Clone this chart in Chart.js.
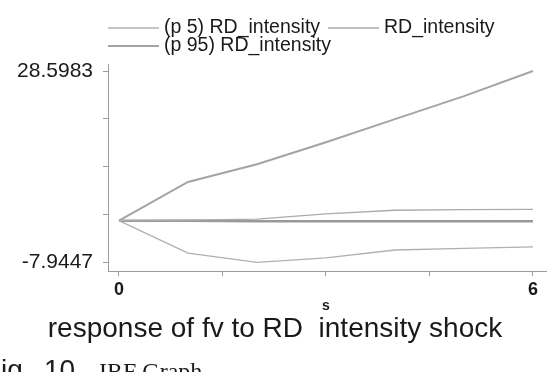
<!DOCTYPE html>
<html lang="en">
<head>
  <meta charset="utf-8" />
  <script src="https://cdn.jsdelivr.net/npm/chart.js/dist/chart.umd.min.js"></script>
  <style>
    html, body { margin: 0; padding: 0; background: #fff; }
    #irf { display: block; }
  </style>
</head>
<body>
  <canvas id="irf" width="547" height="372"></canvas>
  <script>
// step (s) and the response series
const steps = [0, 1, 2, 3, 4, 5, 6];
const p5 = [0, -6.2, -7.9447, -7.1, -5.6, -5.3, -5.0];
const irf = [0, 0.1, 0.3, 1.3, 2.0, 2.1, 2.15];
const p95 = [0, 7.4, 10.8, 15.0, 19.4, 23.8, 28.5983];
const flat = [0, 0, -0.1, -0.1, -0.1, -0.1, -0.1];

const xTicks = [0, 1.5, 3, 4.5, 6];
const xTickLabels = ['0', '', '', '', '6'];
const yTicks = [28.5983, 19.4626, 10.3268, 1.1911, -7.9447];
const yTickLabels = ['28.5983', '', '', '', '-7.9447'];

const pts = arr => steps.map((s, i) => ({ x: s, y: arr[i] }));

// legend + captions drawn straight on the canvas (stata-like layout)
const extras = {
  id: 'extras',
  afterDraw(chart) {
    const ctx = chart.ctx;
    const ds = chart.data.datasets;
    const items = [
      { d: ds[0], x: 108, tx: 164, y: 28 },
      { d: ds[1], x: 328, tx: 384, y: 28 },
      { d: ds[2], x: 108, tx: 164, y: 46 }
    ];
    ctx.save();
    ctx.font = '19.5px "Liberation Sans", Arial, sans-serif';
    ctx.textBaseline = 'middle';
    ctx.textAlign = 'left';
    items.forEach(it => {
      ctx.strokeStyle = it.d.borderColor;
      ctx.lineWidth = it.d.borderWidth;
      ctx.beginPath();
      ctx.moveTo(it.x, it.y);
      ctx.lineTo(it.x + 51, it.y);
      ctx.stroke();
      ctx.fillStyle = '#1a1a1a';
      ctx.fillText(it.d.label, it.tx, it.y);
    });

    // axis title
    ctx.textAlign = 'center';
    ctx.font = 'bold 14px "Liberation Sans", Arial, sans-serif';
    ctx.fillText('s', 326, 306);

    // graph title
    ctx.font = '28px "Liberation Sans", Arial, sans-serif';
    ctx.fillText('response of fv to RD  intensity shock', 275, 329);

    // figure caption, cut off by the bottom edge
    ctx.textAlign = 'left';
    ctx.textBaseline = 'alphabetic';
    ctx.fillText('ig.', 1, 379);
    ctx.fillText('10', 44, 379);
    ctx.font = '24px "Liberation Serif", "Times New Roman", serif';
    ctx.fillText('IRF Graph', 99, 379);
    ctx.restore();
  }
};

const grey = '#9c9c9c';

new Chart(document.getElementById('irf'), {
  type: 'line',
  data: {
    datasets: [
      { label: '(p 5) RD_intensity', data: pts(p5), borderColor: '#b0b0b0', borderWidth: 1.3 },
      { label: 'RD_intensity', data: pts(irf), borderColor: '#ababab', borderWidth: 1.3 },
      { label: '(p 95) RD_intensity', data: pts(p95), borderColor: '#a4a4a4', borderWidth: 2 },
      { label: '', data: pts(flat), borderColor: '#999999', borderWidth: 2.6 }
    ]
  },
  options: {
    responsive: false,
    animation: false,
    devicePixelRatio: 1,
    elements: {
      point: { radius: 0 },
      line: { tension: 0, fill: false }
    },
    layout: { padding: { top: 64, left: 0, right: 0, bottom: 0 } },
    plugins: {
      legend: { display: false },
      tooltip: { enabled: false }
    },
    scales: {
      x: {
        type: 'linear',
        min: -0.159,
        max: 6.203,
        afterBuildTicks: s => { s.ticks = xTicks.map(v => ({ value: v })); },
        afterFit: s => { s.height = 101; },
        ticks: {
          autoSkip: false,
          maxRotation: 0,
          padding: 3,
          color: '#1a1a1a',
          font: { family: '"Liberation Sans", Arial, sans-serif', size: 18, weight: 'bold' },
          callback: (v, i) => xTickLabels[i]
        },
        grid: { drawOnChartArea: false, tickLength: 5, color: grey },
        border: { color: grey, width: 1 }
      },
      y: {
        min: -9.609,
        max: 29.938,
        afterBuildTicks: s => { s.ticks = yTicks.map(v => ({ value: v })); },
        afterFit: s => { s.width = 108; },
        ticks: {
          autoSkip: false,
          padding: 10,
          color: '#1a1a1a',
          font: { family: '"Liberation Sans", Arial, sans-serif', size: 21 },
          callback: (v, i) => yTickLabels[i]
        },
        grid: { drawOnChartArea: false, tickLength: 5, color: grey },
        border: { color: grey, width: 1 }
      }
    }
  },
  plugins: [extras]
});
  </script>
</body>
</html>
